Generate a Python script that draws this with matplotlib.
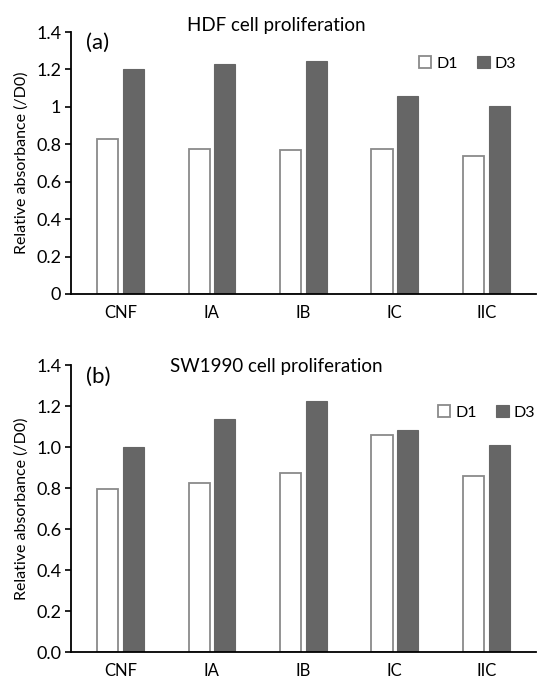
import numpy as np
import matplotlib.pyplot as plt

plt.rcParams['font.family'] = ['Lato', 'DejaVu Sans']

categories = ['CNF', 'IA', 'IB', 'IC', 'IIC']
hdf_d1 = [0.83, 0.775, 0.77, 0.775, 0.735]
hdf_d3 = [1.20, 1.23, 1.245, 1.06, 1.005]
sw_d1 = [0.795, 0.825, 0.875, 1.06, 0.86]
sw_d3 = [1.00, 1.14, 1.225, 1.085, 1.01]

panels = [
    ('HDF cell proliferation', '(a)', hdf_d1, hdf_d3,
     ['0', '0.2', '0.4', '0.6', '0.8', '1', '1.2', '1.4'], (0.748, 0.88)),
    ('SW1990 cell proliferation', '(b)', sw_d1, sw_d3,
     ['0.0', '0.2', '0.4', '0.6', '0.8', '1.0', '1.2', '1.4'], (0.789, 0.835)),
]
# axes rectangles in figure fractions
rects = [[0.129, 0.569, 0.845, 0.384], [0.129, 0.0435, 0.845, 0.421]]
title_y = [0.962, 0.462]

fig = plt.figure(figsize=(5.5, 6.82), dpi=100)
x = np.arange(len(categories))
w = 0.23
for (title, tag, d1, d3, ylabels, leg_pos), rect, ty in zip(panels, rects, title_y):
    ax = fig.add_axes(rect)
    ax.bar(x - 0.14, d1, w, color='white', edgecolor='#8a8a8a', linewidth=1.3, label='D1')
    ax.bar(x + 0.14, d3, w, color='#666666', edgecolor='#666666', linewidth=0.8, label='D3')
    ax.set_xlim(-0.54, 4.54)
    ax.set_ylim(0, 1.4)
    ax.set_yticks(np.arange(0, 1.41, 0.2))
    ax.set_yticklabels(ylabels, fontsize=13)
    ax.set_xticks(x)
    ax.set_xticklabels(categories, fontsize=12)
    ax.tick_params(axis='x', length=0, pad=8)
    ax.tick_params(axis='y', length=4, width=1.2, direction='out', pad=3)
    for s in ['top', 'right']:
        ax.spines[s].set_visible(False)
    for s in ['left', 'bottom']:
        ax.spines[s].set_linewidth(1.3)
    ax.set_ylabel('Relative absorbance (/D0)', fontsize=11.5, labelpad=5)
    ax.text(0.032, 0.96, tag, transform=ax.transAxes, fontsize=16, va='center', ha='left')
    fig.text(0.503, ty, title, fontsize=13.5, ha='center', va='center')
    ax.legend(loc='center left', bbox_to_anchor=leg_pos, frameon=False, ncol=2,
              fontsize=11.5, handlelength=0.8, handleheight=0.8, handletextpad=0.3,
              columnspacing=1.2, borderpad=0, borderaxespad=0)

fig.savefig('out.png', dpi=100)
